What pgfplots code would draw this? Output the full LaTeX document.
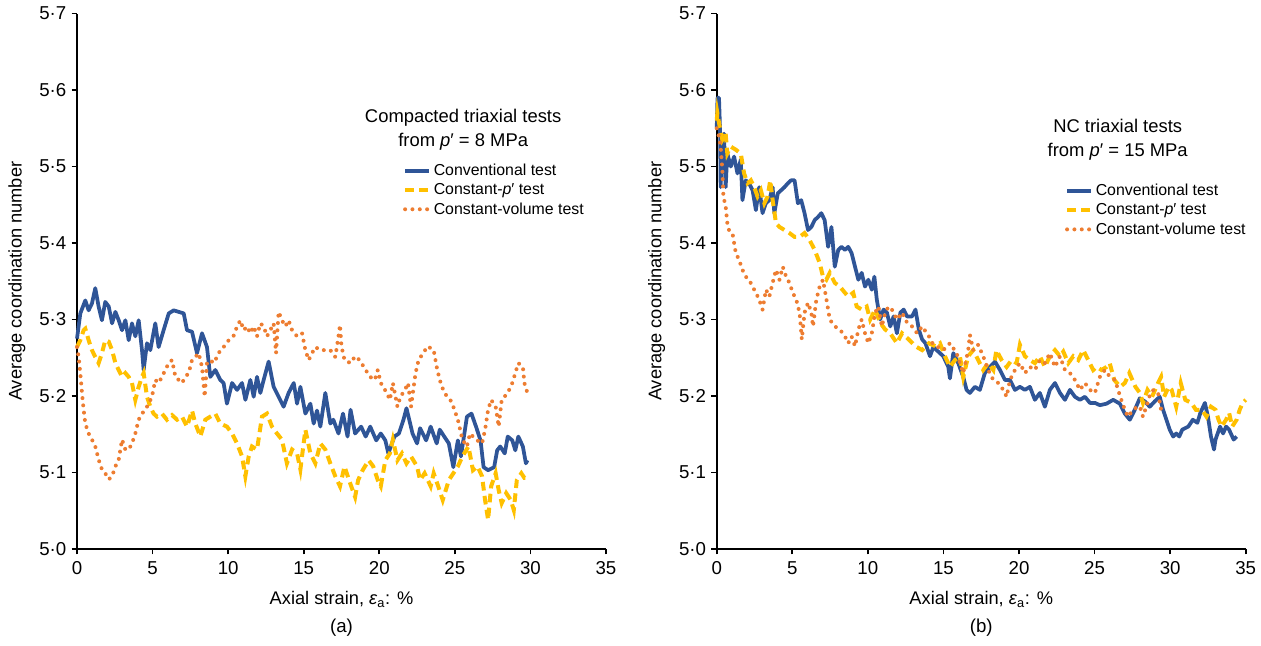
\documentclass[border=0pt]{standalone}
\usepackage{fontspec}
\setmainfont{Liberation Sans}
\usepackage{pgfplots}
\pgfplotsset{compat=1.18}
\definecolor{cblue}{HTML}{2F5597}
\definecolor{cyellow}{HTML}{FFC000}
\definecolor{corange}{HTML}{ED7D31}
\pgfplotsset{
 panel/.style={
  scale only axis, width=396.75pt, height=401.6pt,
  xmin=0,xmax=35,ymin=5,ymax=5.7,
  axis x line=bottom, axis y line=left,
  axis line style={-, line width=1.6pt, black},
  every tick/.style={black, line width=1.3pt},
  tick align=outside, major tick length=4pt,
  xtick={0,5,10,15,20,25,30,35},
  ytick={5,5.1,5.2,5.3,5.4,5.5,5.6,5.7},
  yticklabels={5·0,5·1,5·2,5·3,5·4,5·5,5·6,5·7},
  tick label style={font=\fontsize{14}{16}\selectfont},
  xticklabel style={yshift=-2pt},
  yticklabel style={xshift=-0.5pt},
  /pgf/number format/assume math mode=true,
  xlabel={Axial strain, \textit{ε}\textsubscript{a}: \%},
  ylabel={Average coordination number},
  label style={font=\fontsize{13.7}{16}\selectfont},
  xlabel style={at={(axis description cs:0.5,-0.095)}, anchor=center},
  ylabel style={at={(axis description cs:-0.1134,0.5)}, anchor=center},
  legend style={draw=none, fill=none, font=\fontsize{11.9}{14}\selectfont, anchor=north west, inner sep=0pt, row sep=0.5pt},
  legend cell align=left,
  legend image code/.code={\draw[##1] (0pt,0pt) -- (18pt,0pt);},
  clip=false,
 },
 conv/.style={color=cblue, line width=2.8pt, line join=round},
 cp/.style={color=cyellow, line width=3pt, dash pattern=on 6.5pt off 4pt},
 cv/.style={color=corange, line width=3pt, line cap=round, dash pattern=on 0pt off 5.5pt},
}
\begin{document}
\begin{tikzpicture}
\path[use as bounding box] (-57.75pt,-72.75pt) rectangle (888pt,411.75pt);
\begin{axis}[panel, at={(0pt,0pt)}, anchor=south west,
  legend style={at={(rel axis cs:0.616,0.7246)}}]
\addplot[conv] coordinates {(0,5.275) (0.22,5.308) (0.55,5.325) (0.77,5.312) (0.99,5.321) (1.21,5.341) (1.43,5.317) (1.65,5.299) (1.87,5.323) (2.10,5.317) (2.32,5.295) (2.54,5.310) (2.76,5.299) (2.98,5.286) (3.20,5.299) (3.42,5.273) (3.64,5.295) (3.86,5.278) (4.08,5.299) (4.30,5.260) (4.41,5.234) (4.63,5.269) (4.85,5.260) (5.18,5.295) (5.40,5.264) (5.73,5.286) (6.07,5.308) (6.40,5.312) (6.73,5.310) (7.06,5.308) (7.28,5.286) (7.61,5.284) (7.94,5.256) (8.27,5.282) (8.60,5.264) (8.82,5.225) (9.15,5.234) (9.48,5.221) (9.70,5.217) (9.92,5.190) (10.26,5.217) (10.59,5.208) (10.92,5.217) (11.14,5.195) (11.47,5.221) (11.69,5.199) (11.91,5.225) (12.13,5.204) (12.35,5.221) (12.68,5.245) (13.01,5.212) (13.34,5.199) (13.67,5.186) (14.00,5.204) (14.34,5.217) (14.56,5.190) (14.78,5.212) (15.11,5.177) (15.44,5.190) (15.66,5.164) (15.88,5.181) (16.10,5.160) (16.43,5.204) (16.76,5.164) (16.96,5.169) (17.3,5.151) (17.6,5.177) (17.9,5.147) (18.1,5.182) (18.4,5.151) (18.8,5.160) (19.1,5.147) (19.4,5.160) (19.8,5.142) (20.1,5.151) (20.4,5.142) (20.6,5.125) (21.0,5.147) (21.3,5.151) (21.6,5.169) (21.8,5.184) (22.2,5.151) (22.5,5.138) (22.7,5.158) (23.1,5.142) (23.4,5.160) (23.8,5.138) (24.0,5.156) (24.3,5.147) (24.6,5.138) (24.9,5.107) (25.2,5.142) (25.4,5.121) (25.8,5.173) (26.1,5.177) (26.4,5.160) (26.7,5.142) (26.9,5.107) (27.2,5.103) (27.6,5.107) (27.8,5.129) (28.0,5.134) (28.3,5.125) (28.5,5.147) (28.8,5.142) (29.0,5.129) (29.2,5.147) (29.5,5.134) (29.7,5.112) (29.8,5.116)};
\addlegendentry{Conventional test}
\addplot[cp] coordinates {(0,5.264) (0.22,5.273) (0.44,5.286) (0.55,5.288) (0.77,5.273) (0.99,5.260) (1.21,5.251) (1.43,5.243) (1.65,5.256) (1.87,5.273) (2.10,5.271) (2.32,5.260) (2.54,5.243) (2.76,5.234) (2.98,5.225) (3.20,5.230) (3.42,5.225) (3.64,5.217) (3.86,5.195) (4.08,5.212) (4.30,5.225) (4.41,5.230) (4.63,5.199) (4.85,5.186) (5.07,5.177) (5.29,5.173) (5.62,5.177) (5.95,5.169) (6.29,5.175) (6.62,5.169) (6.95,5.173) (7.28,5.160) (7.61,5.181) (7.83,5.164) (8.16,5.147) (8.49,5.169) (8.82,5.173) (9.15,5.177) (9.48,5.164) (9.92,5.160) (10.26,5.151) (10.59,5.138) (10.92,5.121) (11.14,5.095) (11.36,5.121) (11.58,5.134) (11.91,5.130) (12.24,5.173) (12.57,5.177) (12.90,5.160) (13.23,5.151) (13.56,5.143) (13.89,5.112) (14.23,5.130) (14.56,5.125) (14.78,5.104) (15.11,5.156) (15.44,5.125) (15.77,5.112) (16.10,5.138) (16.43,5.130) (16.76,5.112) (17.09,5.095) (17.4,5.082) (17.7,5.108) (18.0,5.090) (18.4,5.068) (18.6,5.090) (18.9,5.103) (19.3,5.116) (19.6,5.108) (19.9,5.090) (20.1,5.082) (20.4,5.116) (20.7,5.125) (20.9,5.143) (21.2,5.116) (21.5,5.125) (21.8,5.112) (22.1,5.121) (22.5,5.108) (22.7,5.090) (23.0,5.099) (23.4,5.082) (23.6,5.099) (23.9,5.082) (24.2,5.064) (24.6,5.090) (24.9,5.099) (25.2,5.108) (25.5,5.121) (25.9,5.134) (26.2,5.103) (26.5,5.108) (26.8,5.095) (27.0,5.064) (27.2,5.038) (27.4,5.082) (27.7,5.099) (27.9,5.077) (28.1,5.060) (28.4,5.073) (28.7,5.064) (28.9,5.051) (29.1,5.090) (29.4,5.099) (29.6,5.093) (29.8,5.093)};
\addlegendentry{Constant-\textit{p}′ test}
\addplot[cv] coordinates {(0,5.264) (0.11,5.251) (0.26,5.221) (0.33,5.204) (0.44,5.182) (0.55,5.164) (0.77,5.151) (0.99,5.143) (1.21,5.134) (1.43,5.117) (1.65,5.104) (1.87,5.099) (2.10,5.091) (2.32,5.095) (2.54,5.108) (2.76,5.117) (2.98,5.143) (3.20,5.130) (3.42,5.130) (3.64,5.138) (3.86,5.151) (4.08,5.169) (4.30,5.177) (4.52,5.182) (4.74,5.190) (4.96,5.199) (5.18,5.221) (5.40,5.217) (5.62,5.225) (5.84,5.234) (6.07,5.243) (6.29,5.247) (6.51,5.225) (6.73,5.221) (6.95,5.217) (7.17,5.225) (7.39,5.230) (7.61,5.247) (7.83,5.251) (8.05,5.256) (8.27,5.238) (8.45,5.199) (8.60,5.243) (8.82,5.247) (9.04,5.243) (9.26,5.251) (9.48,5.260) (9.70,5.264) (10.04,5.273) (10.37,5.279) (10.59,5.291) (10.81,5.299) (11.03,5.286) (11.25,5.291) (11.47,5.282) (11.69,5.291) (11.91,5.278) (12.13,5.295) (12.35,5.291) (12.57,5.278) (12.79,5.286) (13.01,5.295) (13.17,5.256) (13.34,5.310) (13.56,5.299) (13.78,5.291) (14.00,5.299) (14.23,5.286) (14.56,5.278) (14.89,5.282) (15.11,5.260) (15.33,5.247) (15.55,5.256) (15.77,5.264) (16.10,5.260) (16.43,5.260) (16.76,5.260) (17.09,5.251) (17.3,5.278) (17.4,5.293) (17.5,5.265) (17.7,5.247) (18.1,5.243) (18.4,5.252) (18.7,5.247) (19.1,5.234) (19.4,5.225) (19.7,5.221) (19.9,5.234) (20.1,5.217) (20.5,5.204) (20.7,5.195) (20.9,5.217) (21.2,5.186) (21.4,5.199) (21.7,5.208) (21.9,5.217) (22.1,5.186) (22.4,5.230) (22.6,5.247) (22.9,5.256) (23.2,5.265) (23.6,5.260) (23.8,5.238) (24.0,5.221) (24.3,5.204) (24.7,5.195) (24.9,5.186) (25.2,5.169) (25.5,5.143) (25.8,5.134) (26.0,5.151) (26.2,5.147) (26.4,5.143) (26.8,5.138) (27.0,5.156) (27.2,5.182) (27.4,5.195) (27.7,5.186) (27.9,5.160) (28.1,5.195) (28.5,5.204) (28.8,5.217) (29.0,5.230) (29.2,5.243) (29.5,5.238) (29.6,5.217) (29.8,5.204)};
\addlegendentry{Constant-volume test}
\node[font=\fontsize{13.8}{18}\selectfont, align=center] at (rel axis cs:0.730,0.783) {Compacted triaxial tests\\from \textit{p}′ = 8 MPa};
\node[font=\fontsize{14}{16}\selectfont] at (rel axis cs:0.5,-0.1475) {(a)};
\end{axis}
\begin{axis}[panel, at={(479.8pt,0pt)}, anchor=south west,
  legend style={at={(rel axis cs:0.658,0.687)}}]
\addplot[conv] coordinates {(0,5.55) (0.05,5.59) (0.15,5.59) (0.22,5.548) (0.26,5.473) (0.37,5.535) (0.48,5.543) (0.59,5.473) (0.70,5.517) (0.93,5.500) (1.15,5.513) (1.37,5.491) (1.59,5.509) (1.70,5.456) (1.92,5.482) (2.14,5.478) (2.37,5.469) (2.59,5.443) (2.81,5.473) (3.03,5.439) (3.25,5.452) (3.48,5.456) (3.70,5.473) (3.81,5.439) (4.04,5.465) (4.26,5.469) (4.48,5.473) (4.70,5.478) (4.92,5.482) (5.15,5.482) (5.37,5.452) (5.59,5.456) (5.81,5.439) (6.04,5.417) (6.26,5.421) (6.48,5.430) (6.70,5.434) (6.92,5.439) (7.14,5.430) (7.37,5.395) (7.59,5.421) (7.81,5.369) (8.04,5.391) (8.26,5.395) (8.48,5.391) (8.70,5.395) (8.92,5.387) (9.15,5.369) (9.37,5.352) (9.59,5.361) (9.81,5.343) (10.03,5.352) (10.26,5.339) (10.43,5.356) (10.59,5.326) (10.81,5.300) (11.04,5.313) (11.26,5.309) (11.48,5.291) (11.70,5.304) (11.92,5.282) (12.15,5.309) (12.37,5.313) (12.59,5.304) (12.92,5.304) (13.15,5.313) (13.37,5.287) (13.59,5.274) (13.81,5.269) (14.11,5.252) (14.33,5.264) (14.55,5.260) (14.77,5.256) (14.99,5.252) (15.32,5.238) (15.43,5.223) (15.65,5.256) (15.98,5.243) (16.31,5.225) (16.53,5.208) (16.75,5.204) (17.08,5.212) (17.41,5.208) (17.74,5.230) (18.08,5.238) (18.41,5.245) (18.74,5.234) (19.07,5.221) (19.40,5.221) (19.73,5.208) (20.06,5.212) (20.39,5.208) (20.72,5.212) (21.05,5.195) (21.38,5.204) (21.71,5.186) (22.04,5.208) (22.38,5.217) (22.71,5.204) (23.04,5.195) (23.37,5.208) (23.70,5.199) (24.03,5.195) (24.36,5.199) (24.69,5.191) (25.02,5.191) (25.35,5.188) (25.79,5.190) (26.23,5.195) (26.67,5.190) (27.0,5.177) (27.33,5.169) (27.66,5.182) (27.99,5.197) (28.32,5.193) (28.65,5.186) (28.98,5.193) (29.31,5.199) (29.53,5.182) (29.75,5.169) (29.97,5.156) (30.2,5.147) (30.4,5.151) (30.6,5.147) (30.8,5.156) (31.2,5.160) (31.5,5.169) (31.8,5.165) (32.0,5.178) (32.3,5.191) (32.5,5.173) (32.7,5.147) (32.9,5.130) (33.0,5.143) (33.3,5.160) (33.5,5.151) (33.7,5.160) (33.9,5.156) (34.2,5.143) (34.4,5.147)};
\addlegendentry{Conventional test}
\addplot[cp] coordinates {(0,5.56) (0.04,5.570) (0.15,5.557) (0.37,5.535) (0.59,5.543) (0.70,5.517) (0.93,5.526) (1.26,5.522) (1.59,5.517) (1.81,5.491) (2.04,5.478) (2.26,5.482) (2.48,5.473) (2.70,5.461) (2.92,5.469) (3.15,5.452) (3.37,5.461) (3.54,5.482) (3.70,5.456) (3.92,5.426) (4.15,5.421) (4.48,5.417) (4.81,5.413) (5.15,5.408) (5.48,5.408) (5.81,5.413) (6.14,5.404) (6.48,5.391) (6.81,5.374) (7.03,5.356) (7.25,5.352) (7.48,5.361) (7.81,5.348) (8.15,5.343) (8.48,5.335) (8.70,5.330) (9.03,5.335) (9.26,5.317) (9.59,5.313) (9.92,5.317) (10.15,5.300) (10.48,5.313) (10.81,5.296) (11.14,5.287) (11.48,5.282) (11.92,5.269) (12.26,5.282) (12.70,5.274) (13.15,5.265) (13.59,5.260) (14.04,5.269) (14.48,5.265) (14.77,5.269) (15.1,5.252) (15.43,5.238) (15.76,5.247) (16.09,5.252) (16.31,5.225) (16.64,5.252) (16.97,5.260) (17.3,5.247) (17.63,5.234) (17.96,5.243) (18.3,5.234) (18.5,5.260) (18.85,5.247) (19.18,5.238) (19.51,5.247) (19.84,5.243) (20.06,5.267) (20.39,5.252) (20.72,5.247) (21.05,5.243) (21.38,5.252) (21.71,5.238) (22.04,5.252) (22.38,5.260) (22.71,5.252) (22.93,5.258) (23.26,5.243) (23.59,5.252) (23.92,5.247) (24.25,5.260) (24.58,5.247) (24.91,5.234) (25.13,5.238) (25.46,5.234) (25.79,5.238) (26.0,5.243) (26.3,5.221) (26.7,5.212) (27.0,5.217) (27.3,5.230) (27.7,5.212) (28.0,5.204) (28.2,5.191) (28.5,5.208) (28.8,5.199) (29.2,5.217) (29.4,5.225) (29.6,5.199) (29.9,5.212) (30.1,5.208) (30.4,5.186) (30.7,5.217) (31.0,5.195) (31.4,5.191) (31.7,5.182) (32.1,5.182) (32.4,5.173) (32.7,5.186) (33.0,5.182) (33.2,5.169) (33.4,5.160) (33.7,5.169) (33.9,5.178) (34.1,5.160) (34.4,5.169) (34.6,5.182) (34.8,5.191) (35.0,5.195)};
\addlegendentry{Constant-\textit{p}′ test}
\addplot[cv] coordinates {(0,5.55) (0.04,5.548) (0.15,5.539) (0.26,5.526) (0.37,5.496) (0.44,5.461) (0.59,5.448) (0.70,5.426) (0.81,5.417) (1.04,5.413) (1.26,5.387) (1.48,5.378) (1.70,5.365) (1.92,5.356) (2.14,5.352) (2.37,5.343) (2.59,5.335) (2.81,5.326) (3.03,5.313) (3.26,5.339) (3.48,5.330) (3.70,5.348) (3.92,5.365) (4.15,5.352) (4.37,5.369) (4.59,5.356) (4.81,5.348) (5.03,5.335) (5.26,5.326) (5.48,5.309) (5.63,5.274) (5.81,5.309) (6.04,5.322) (6.26,5.309) (6.37,5.291) (6.59,5.326) (6.81,5.343) (7.03,5.352) (7.26,5.326) (7.48,5.300) (7.81,5.291) (8.15,5.287) (8.48,5.278) (8.70,5.269) (8.92,5.278) (9.15,5.265) (9.37,5.287) (9.59,5.300) (9.81,5.282) (10.03,5.269) (10.26,5.282) (10.48,5.309) (10.70,5.317) (10.92,5.291) (11.15,5.309) (11.37,5.317) (11.59,5.313) (11.92,5.300) (12.26,5.309) (12.59,5.296) (12.92,5.291) (13.26,5.282) (13.59,5.291) (14.04,5.278) (14.3,5.268) (14.55,5.265) (14.99,5.260) (15.43,5.269) (15.87,5.256) (16.31,5.230) (16.64,5.260) (16.75,5.280) (16.97,5.260) (17.3,5.267) (17.63,5.252) (17.96,5.234) (18.3,5.221) (18.63,5.217) (18.96,5.208) (19.18,5.199) (19.4,5.221) (19.73,5.234) (20.06,5.243) (20.39,5.230) (20.72,5.238) (21.05,5.234) (21.38,5.247) (21.71,5.243) (22.04,5.256) (22.38,5.238) (22.71,5.252) (23.04,5.234) (23.37,5.230) (23.7,5.221) (24.03,5.208) (24.36,5.217) (24.69,5.208) (25.02,5.204) (25.35,5.225) (25.68,5.234) (26.02,5.225) (26.35,5.221) (26.7,5.199) (27.0,5.182) (27.2,5.173) (27.4,5.178) (27.8,5.186) (28.0,5.186) (28.2,5.173) (28.5,5.191) (28.7,5.204) (28.9,5.208) (29.2,5.204) (29.4,5.182) (29.5,5.178)};
\addlegendentry{Constant-volume test}
\node[font=\fontsize{13.8}{18}\selectfont, align=center] at (rel axis cs:0.758,0.764) {NC triaxial tests\\from \textit{p}′ = 15 MPa};
\node[font=\fontsize{14}{16}\selectfont] at (rel axis cs:0.5,-0.1475) {(b)};
\end{axis}
\end{tikzpicture}
\end{document}
